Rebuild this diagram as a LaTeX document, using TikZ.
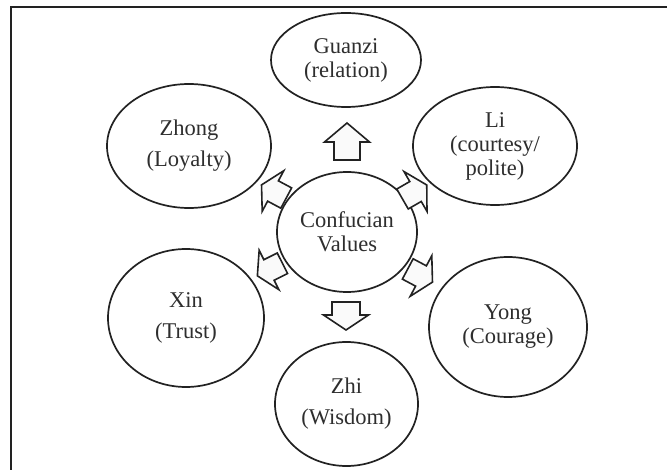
\documentclass[tikz,border=0pt]{standalone}
\usepackage{fontspec}
\setmainfont{Liberation Serif}
\usetikzlibrary{shapes.geometric}
\definecolor{inkgray}{HTML}{222222}
\definecolor{txtgray}{HTML}{2E2E2E}
\definecolor{arrowfill}{HTML}{FAFAFA}
\tikzset{
  value/.style={ellipse, draw=inkgray, line width=1.7pt, inner sep=0pt,
    align=center, text=txtgray, font=\fontsize{22.5}{24}\selectfont},
  blockarrow/.style={draw=inkgray, fill=arrowfill, line width=1.6pt, line join=miter}
}
% #1 = base midpoint, #2 = angle, #3 = shaft length, #4 = head length, #5 = head width, #6 = shaft width
\newcommand{\bigarrow}[6]{%
  \draw[blockarrow, shift={#1}, rotate=#2]
    (-#3,-#6/2) -- (0,-#6/2) -- (0,-#5/2) -- (#4,0) -- (0,#5/2) -- (0,#6/2) -- (-#3,#6/2) -- cycle;}
\begin{document}
\begin{tikzpicture}[x=1pt,y=-1pt]
\useasboundingbox (0,0) rectangle (667,470);
\clip (0,0) rectangle (667,470);
\fill[white] (0,0) rectangle (667,470);
\draw[inkgray, line width=2pt] (11,7) rectangle (700,500);

\node[value, minimum width=140pt, minimum height=120pt] (center) at (347,232) {Confucian\\Values};
\node[value, minimum width=150pt, minimum height=94pt] (guanzi) at (346,60) {Guanzi\\(relation)};
\node[value, minimum width=164pt, minimum height=124pt] (zhong) at (189,146) {Zhong\\[7pt](Loyalty)};
\node[value, minimum width=164pt, minimum height=118pt] (li) at (495,146) {Li\\(courtesy/\\polite)};
\node[value, minimum width=156pt, minimum height=138pt] (xin) at (186,318) {Xin\\[7pt](Trust)};
\node[value, minimum width=158pt, minimum height=140pt] (yong) at (508,327) {Yong\\(Courage)};
\node[value, minimum width=143pt, minimum height=124pt] (zhi) at (346.5,404) {Zhi\\[7pt](Wisdom)};

\bigarrow{(347,142)}{90}{18}{19}{45}{26}
\bigarrow{(346,315)}{-90}{13}{15}{45}{28}
\bigarrow{(273,191)}{152}{15}{13}{46}{23}
\bigarrow{(415.5,191.5)}{30}{15}{13}{46}{23}
\bigarrow{(269,270)}{206.6}{15}{13}{44}{23}
\bigarrow{(421,276)}{-28}{15}{13}{46}{23}
\end{tikzpicture}
\end{document}
